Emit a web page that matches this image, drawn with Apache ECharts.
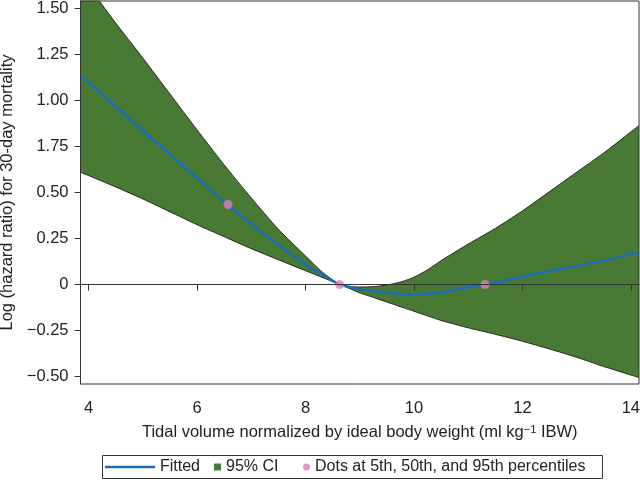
<!DOCTYPE html>
<html>
<head>
<meta charset="utf-8">
<script src="https://cdn.jsdelivr.net/npm/echarts@6/dist/echarts.min.js"></script>
<style>
html,body{margin:0;padding:0;background:#fff;}
#chart{width:640px;height:487px;}
</style>
</head>
<body>
<div id="chart"></div>
<script>
// Data
const xValues = [3.85, 4.5, 5, 5.5, 6, 6.5, 7, 7.5, 8, 8.3, 8.63, 8.8, 9, 9.3, 9.6, 9.8, 10, 10.25, 10.5, 11, 11.5, 12, 12.5, 13, 13.5, 14.15];
const fitted  = [1.136, 0.967, 0.837, 0.707, 0.578, 0.45, 0.33, 0.215, 0.11, 0.055, 0, -0.012, -0.025, -0.037, -0.047, -0.052, -0.053, -0.05, -0.043, -0.015, 0.01, 0.044, 0.074, 0.101, 0.13, 0.175];
const upperCI = [1.68, 1.42, 1.23, 1.035, 0.84, 0.65, 0.47, 0.30, 0.155, 0.07, 0.0, -0.01, -0.013, -0.01, 0.003, 0.018, 0.04, 0.08, 0.13, 0.22, 0.305, 0.40, 0.505, 0.61, 0.715, 0.864];
const lowerCI = [0.61, 0.53, 0.465, 0.395, 0.325, 0.26, 0.195, 0.135, 0.075, 0.04, 0, -0.02, -0.045, -0.075, -0.105, -0.125, -0.145, -0.17, -0.195, -0.235, -0.27, -0.308, -0.35, -0.395, -0.445, -0.505];
const dotX = [6.57, 8.63, 11.31];
const dotY = [0.435, 0, 0];
const xTicks = [4, 6, 8, 10, 12, 14];
const xTickLabels = ['4', '6', '8', '10', '12', '14'];
const yTicks = [-0.5, -0.25, 0, 0.25, 0.5, 0.75, 1, 1.25, 1.5];
const yTickLabels = ['\u22120.50', '\u22120.25', '0', '0.25', '0.50', '1.75', '1.00', '1.25', '1.50'];

const pairs = (xs, ys) => xs.map((x, i) => [x, ys[i]]);

const FONT = 'Liberation Sans, Arial, Helvetica, sans-serif';
const TXT = '#222';
const GREEN = '#487a34';
const BLUE = '#1a6db8';
const PINK = '#e07cc0';
const SMOOTH = 0.2;

const chart = echarts.init(document.getElementById('chart'));
chart.setOption({
  animation: false,
  textStyle: { fontFamily: FONT },
  grid: {
    left: 80.5, right: 1, top: 1, bottom: 103, z: 10,
    show: true, borderColor: '#333', borderWidth: 1,
    containLabel: false, outerBoundsMode: 'none'
  },
  xAxis: {
    type: 'value', min: 3.85, max: 14.15, z: 10,
    name: 'Tidal volume normalized by ideal body weight (ml kg{sup|\u22121} IBW)',
    nameLocation: 'middle', nameGap: 40,
    nameTextStyle: {
      fontSize: 16.5, color: TXT, fontFamily: FONT,
      rich: { sup: { fontSize: 11, verticalAlign: 'top', color: TXT, fontFamily: FONT, padding: [0, 0, 6, 0] } }
    },
    axisLine: { lineStyle: { color: '#333', width: 1 } },
    axisTick: { show: true, length: 6, customValues: xTicks, lineStyle: { color: '#333' } },
    axisLabel: {
      customValues: xTicks, margin: 16, fontSize: 16.5, color: TXT,
      formatter: v => xTickLabels[xTicks.indexOf(v)] ?? ''
    },
    splitLine: { show: false }
  },
  yAxis: {
    type: 'value', min: -0.54, max: 1.54, z: 10,
    name: 'Log (hazard ratio) for 30-day mortality',
    nameLocation: 'middle', nameGap: 52,
    nameTextStyle: { fontSize: 16.5, color: TXT, fontFamily: FONT },
    axisLine: { show: true, lineStyle: { color: '#333', width: 1 } },
    axisTick: { show: true, length: 6, customValues: yTicks, lineStyle: { color: '#333' } },
    axisLabel: {
      customValues: yTicks, margin: 12, fontSize: 16.5, color: TXT,
      formatter: v => { const i = yTicks.findIndex(t => Math.abs(t - v) < 1e-9); return i >= 0 ? yTickLabels[i] : ''; }
    },
    splitLine: { show: false }
  },
  legend: [
    {
      data: [{ name: 'Fitted', icon: 'path://M0,0L50,0L50,2.5L0,2.5Z' }],
      left: 105, top: 459, itemWidth: 50, itemHeight: 16, padding: 0, itemGap: 0,
      textStyle: { fontSize: 16, color: TXT, fontFamily: FONT }
    },
    {
      data: [{ name: '95% CI', icon: 'rect' }],
      left: 214, top: 459, itemWidth: 7, itemHeight: 7, padding: 0,
      textStyle: { fontSize: 16, color: TXT, fontFamily: FONT }
    },
    {
      data: [{ name: 'Dots at 5th, 50th, and 95th percentiles', icon: 'circle' }],
      left: 303, top: 459, itemWidth: 7, itemHeight: 7, padding: 0,
      textStyle: { fontSize: 16, color: TXT, fontFamily: FONT }
    }
  ],
  graphic: [{
    type: 'rect', silent: true,
    shape: { x: 102.5, y: 455.5, width: 500, height: 23 },
    style: { fill: 'none', stroke: '#333', lineWidth: 1 }
  }],
  series: [
    {
      name: '95% CI', type: 'line', data: pairs(xValues, upperCI),
      symbol: 'none', showSymbol: false, clip: true, smooth: SMOOTH,
      itemStyle: { color: GREEN },
      lineStyle: { color: '#1a1a1a', width: 0.9 },
      areaStyle: { color: GREEN, opacity: 1, origin: 'start' }, z: 2
    },
    {
      name: 'lowerCI', type: 'line', data: pairs(xValues, lowerCI),
      symbol: 'none', showSymbol: false, clip: true, smooth: SMOOTH,
      itemStyle: { color: '#fff' },
      lineStyle: { color: '#1a1a1a', width: 0.9 },
      areaStyle: { color: '#ffffff', opacity: 1, origin: 'start' }, z: 3
    },
    {
      name: 'zero', type: 'line', data: [], z: 3.5,
      markLine: {
        silent: true, symbol: 'none', label: { show: false },
        lineStyle: { color: '#9a9a9a', width: 1.2, type: 'solid' },
        data: [{ yAxis: 0 }]
      }
    },
    {
      name: 'Fitted', type: 'line', data: pairs(xValues, fitted),
      symbol: 'none', showSymbol: false, clip: true, smooth: SMOOTH,
      itemStyle: { color: BLUE },
      lineStyle: { color: BLUE, width: 2.5 }, z: 4
    },
    {
      name: 'Dots at 5th, 50th, and 95th percentiles', type: 'scatter',
      data: pairs(dotX, dotY), symbol: 'circle', symbolSize: 9,
      itemStyle: { color: PINK }, z: 5
    }
  ]
});
</script>
</body>
</html>
